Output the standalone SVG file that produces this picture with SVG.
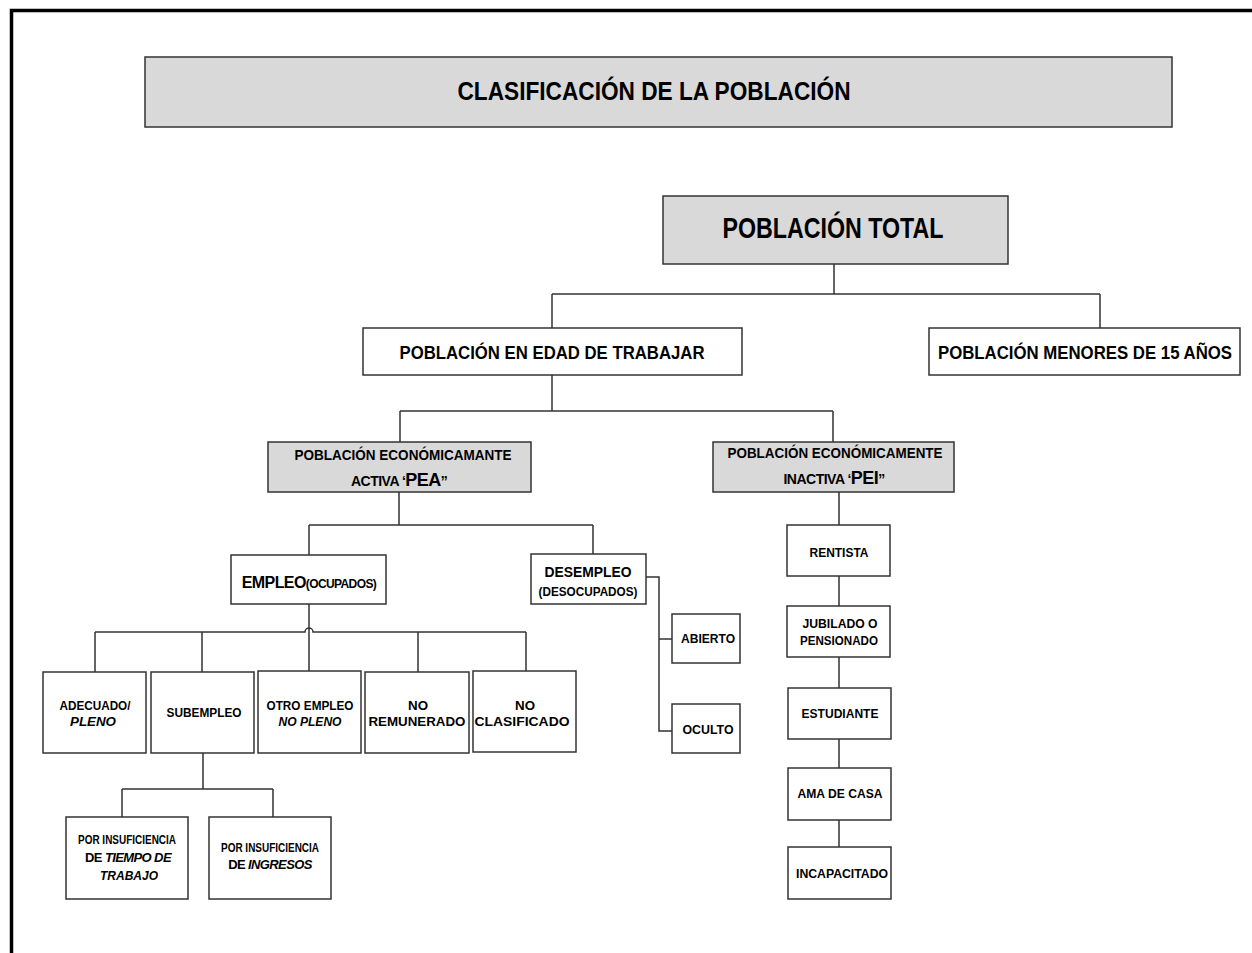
<svg xmlns="http://www.w3.org/2000/svg" width="1252" height="953" viewBox="0 0 1252 953">
<style>
.bx{fill:#ffffff;stroke:#333333;stroke-width:1.5}
.gb{fill:#d9d9d9;stroke:#333333;stroke-width:1.5}
.t{font-family:"Liberation Sans",Arial,sans-serif;font-weight:bold;fill:#000000}
.c{text-anchor:middle}
.i{font-style:italic}
.ln{fill:none;stroke:#333333;stroke-width:1.5}
</style>
<rect width="1252" height="953" fill="#ffffff"/>
<path d="M11.5 953 V10.5 H1252" fill="none" stroke="#000000" stroke-width="3.5"/>

<g id="connectors" class="ln">
<path d="M834 264 V294 M552 294 H1100 M552 294 V328 M1100 294 V328"/>
<path d="M552 375 V411 M400 411 H833 M400 411 V442 M833 411 V442"/>
<path d="M399 492 V525 M309 525 H593 M309 525 V555 M593 525 V554"/>
<path d="M646 577 H659 V731 H672 M659 639 H672"/>
<path d="M95 632 H305 A4 4 0 0 1 313 632 H526 M309 604 V672 M95 632 V672 M202 632 V672 M418 632 V672 M526 632 V671"/>
<path d="M203 753 V789 M122 789 H273 M122 789 V817 M273 789 V817"/>
<path d="M839 492 V525 M839 576 V606 M839 657 V688 M839 739 V768 M839 820 V847"/>
</g>

<g id="title">
<rect class="gb" x="145" y="57" width="1027" height="70"/>
<text class="t c" x="654" y="100" font-size="26" textLength="393" lengthAdjust="spacingAndGlyphs">CLASIFICACIÓN DE LA POBLACIÓN</text>
</g>

<g id="total">
<rect class="gb" x="663" y="196" width="345" height="68"/>
<text class="t c" x="833" y="238" font-size="30" textLength="221" lengthAdjust="spacingAndGlyphs">POBLACIÓN TOTAL</text>
</g>

<g id="edad">
<rect class="bx" x="363" y="328" width="379" height="47"/>
<text class="t c" x="552" y="359" font-size="18" textLength="305" lengthAdjust="spacingAndGlyphs">POBLACIÓN EN EDAD DE TRABAJAR</text>
</g>

<g id="menores">
<rect class="bx" x="929" y="328" width="311" height="47"/>
<text class="t c" x="1085" y="359" font-size="18" textLength="294" lengthAdjust="spacingAndGlyphs">POBLACIÓN MENORES DE 15 AÑOS</text>
</g>

<g id="pea">
<rect class="gb" x="268" y="442" width="263" height="50"/>
<text class="t c" x="403" y="460" font-size="14" textLength="217" lengthAdjust="spacingAndGlyphs">POBLACIÓN ECONÓMICAMANTE</text>
<text class="t c" x="399" y="486" font-size="14" letter-spacing="-0.5">ACTIVA ‘<tspan font-size="18">PEA</tspan>’’</text>
</g>

<g id="pei">
<rect class="gb" x="713" y="442" width="241" height="50"/>
<text class="t c" x="835" y="458" font-size="14" textLength="215" lengthAdjust="spacingAndGlyphs">POBLACIÓN ECONÓMICAMENTE</text>
<text class="t c" x="834" y="484" font-size="14" letter-spacing="-0.5">INACTIVA ‘<tspan font-size="18">PEI</tspan>’’</text>
</g>

<g id="empleo">
<rect class="bx" x="231" y="555" width="155" height="49"/>
<text class="t c" x="309" y="588" font-size="16" letter-spacing="-0.6">EMPLEO<tspan font-size="12">(OCUPADOS)</tspan></text>
</g>

<g id="desempleo">
<rect class="bx" x="531" y="554" width="115" height="50"/>
<text class="t c" x="588" y="577" font-size="15" textLength="87" lengthAdjust="spacingAndGlyphs">DESEMPLEO</text>
<text class="t c" x="588" y="596" font-size="12" textLength="99" lengthAdjust="spacingAndGlyphs">(DESOCUPADOS)</text>
</g>

<g id="abierto">
<rect class="bx" x="672" y="614" width="68" height="49"/>
<text class="t c" x="708" y="643" font-size="13" textLength="54" lengthAdjust="spacingAndGlyphs">ABIERTO</text>
</g>

<g id="oculto">
<rect class="bx" x="672" y="704" width="68" height="49"/>
<text class="t c" x="708" y="734" font-size="13" textLength="51" lengthAdjust="spacingAndGlyphs">OCULTO</text>
</g>

<g id="adecuado">
<rect class="bx" x="43" y="672" width="103" height="81"/>
<text class="t c" x="95" y="710" font-size="13" textLength="71" lengthAdjust="spacingAndGlyphs">ADECUADO/</text>
<text class="t c i" x="93" y="726" font-size="13" textLength="46" lengthAdjust="spacingAndGlyphs">PLENO</text>
</g>

<g id="subempleo">
<rect class="bx" x="151" y="672" width="103" height="81"/>
<text class="t c" x="204" y="717" font-size="13" textLength="75" lengthAdjust="spacingAndGlyphs">SUBEMPLEO</text>
</g>

<g id="otro">
<rect class="bx" x="258" y="671" width="103" height="82"/>
<text class="t c" x="310" y="710" font-size="13" textLength="87" lengthAdjust="spacingAndGlyphs">OTRO EMPLEO</text>
<text class="t c i" x="310" y="726" font-size="13" textLength="63" lengthAdjust="spacingAndGlyphs">NO PLENO</text>
</g>

<g id="noremunerado">
<rect class="bx" x="365" y="672" width="104" height="81"/>
<text class="t c" x="418" y="710" font-size="13" textLength="20" lengthAdjust="spacingAndGlyphs">NO</text>
<text class="t c" x="417" y="726" font-size="13" textLength="97" lengthAdjust="spacingAndGlyphs">REMUNERADO</text>
</g>

<g id="noclasificado">
<rect class="bx" x="473" y="671" width="103" height="81"/>
<text class="t c" x="525" y="710" font-size="13" textLength="20" lengthAdjust="spacingAndGlyphs">NO</text>
<text class="t c" x="522" y="726" font-size="13" textLength="95" lengthAdjust="spacingAndGlyphs">CLASIFICADO</text>
</g>

<g id="tiempo">
<rect class="bx" x="66" y="817" width="122" height="82"/>
<text class="t c" x="127" y="844" font-size="12" textLength="98" lengthAdjust="spacingAndGlyphs">POR INSUFICIENCIA</text>
<text class="t c" x="128" y="862" font-size="13" letter-spacing="-0.6">DE <tspan class="i">TIEMPO DE</tspan></text>
<text class="t c i" x="129" y="880" font-size="13" textLength="58" lengthAdjust="spacingAndGlyphs">TRABAJO</text>
</g>

<g id="ingresos">
<rect class="bx" x="209" y="817" width="122" height="82"/>
<text class="t c" x="270" y="852" font-size="12" textLength="98" lengthAdjust="spacingAndGlyphs">POR INSUFICIENCIA</text>
<text class="t c" x="270" y="869" font-size="13" letter-spacing="-0.6">DE <tspan class="i">INGRESOS</tspan></text>
</g>

<g id="rentista">
<rect class="bx" x="787" y="525" width="103" height="51"/>
<text class="t c" x="839" y="557" font-size="13" textLength="59" lengthAdjust="spacingAndGlyphs">RENTISTA</text>
</g>

<g id="jubilado">
<rect class="bx" x="787" y="606" width="103" height="51"/>
<text class="t c" x="840" y="628" font-size="13" textLength="75" lengthAdjust="spacingAndGlyphs">JUBILADO O</text>
<text class="t c" x="839" y="645" font-size="13" textLength="78" lengthAdjust="spacingAndGlyphs">PENSIONADO</text>
</g>

<g id="estudiante">
<rect class="bx" x="788" y="688" width="103" height="51"/>
<text class="t c" x="840" y="718" font-size="13" textLength="77" lengthAdjust="spacingAndGlyphs">ESTUDIANTE</text>
</g>

<g id="amadecasa">
<rect class="bx" x="788" y="768" width="103" height="52"/>
<text class="t c" x="840" y="798" font-size="13" textLength="85" lengthAdjust="spacingAndGlyphs">AMA DE CASA</text>
</g>

<g id="incapacitado">
<rect class="bx" x="788" y="847" width="103" height="52"/>
<text class="t c" x="842" y="878" font-size="13" textLength="92" lengthAdjust="spacingAndGlyphs">INCAPACITADO</text>
</g>
</svg>
